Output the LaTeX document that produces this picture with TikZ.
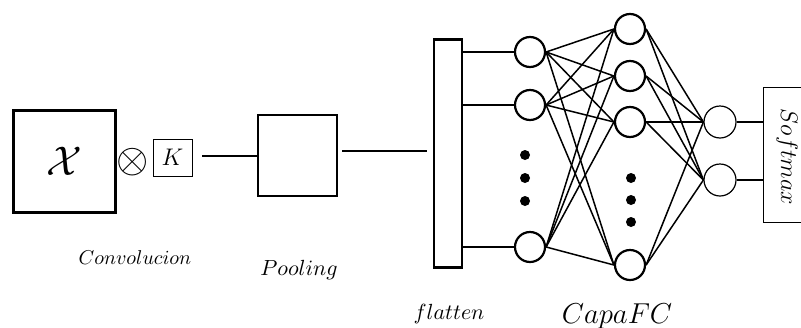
\documentclass[tikz,border=0pt]{standalone}
\usepackage{amsmath,amssymb}
\begin{document}
\begin{tikzpicture}[x=0.5pt,y=-0.5pt,
  thickbox/.style={draw,line width=1.2pt,inner sep=0pt},
  thinbox/.style={draw,line width=0.5pt,inner sep=0pt},
  neuron/.style={circle,draw,line width=1.1pt,minimum size=15pt,inner sep=0pt},
  outneuron/.style={circle,draw,line width=0.6pt,minimum size=16pt,inner sep=0pt},
  link/.style={line width=0.75pt},
  wire/.style={line width=1.1pt},
  dot/.style={circle,fill,inner sep=0pt,minimum size=5pt},
  lbl/.style={inner sep=0pt}]
\useasboundingbox (0,0) rectangle (801,327);

% convolution stage
\node[thickbox,minimum width=51pt,minimum height=51pt] (X) at (64.5,161.5)
  {\fontsize{20}{24}\selectfont$\mathcal{X}$};
\node[lbl] (otimes) at (133,162) {\fontsize{21}{24}\selectfont$\otimes$};
\node[thinbox,minimum width=19.5pt,minimum height=18.5pt] (K) at (172.5,157.5)
  {\fontsize{12}{14}\selectfont$K$};
\node[lbl] (conv) at (135,258) {\fontsize{10.2}{12}\selectfont$Convolucion$};

% pooling stage
\node[thickbox,minimum width=39.5pt,minimum height=40.5pt] (pool) at (297.5,155.5) {};
\node[lbl] (pooltxt) at (299,270) {\fontsize{11}{13}\selectfont$Pooling$};
\coordinate (kout) at (202,156);
\draw[wire] (kout) -- (pool.west |- kout);
\coordinate (pout) at (342,151);
\coordinate (fin) at (427,151);
\draw[wire] (pout) -- (fin);

% flatten
\node[thickbox,minimum width=14pt,minimum height=114pt] (flat) at (448,153.5) {};
\node[lbl] (flattxt) at (449,314) {\fontsize{11}{13}\selectfont$flatten$};

% input neurons
\node[neuron] (i1) at (530,52) {};
\node[neuron] (i2) at (530,105) {};
\node[neuron] (i3) at (530,247) {};
\node[dot] (d1) at (525,155) {};
\node[dot] (d2) at (525,178) {};
\node[dot] (d3) at (525,201) {};
\foreach \n in {i1,i2,i3} \draw[link] (flat.east |- \n) -- (\n.west);

% hidden neurons
\node[neuron] (h1) at (630,29) {};
\node[neuron] (h2) at (630,76) {};
\node[neuron] (h3) at (630,122) {};
\node[neuron] (h4) at (630,265) {};
\node[dot] (e1) at (631,178) {};
\node[dot] (e2) at (631,200) {};
\node[dot] (e3) at (631,222) {};
\node[lbl] (fctxt) at (617,316) {\fontsize{14}{16}\selectfont$CapaFC$};

% output neurons
\node[outneuron] (o1) at (720,122) {};
\node[outneuron] (o2) at (720,180) {};

% softmax
\node[thinbox,minimum width=28pt,minimum height=67.5pt,anchor=north west] (soft) at (763,87) {};
\node[lbl,rotate=-90] (softtxt) at (787,157) {\fontsize{11.5}{13}\selectfont$Softmax$};
\foreach \n in {o1,o2} \draw[wire] (\n.east) -- (soft.west |- \n);

% dense connections
\foreach \a in {i1,i2,i3}
  \foreach \b in {h1,h2,h3,h4}
    \draw[link] (\a.east) -- (\b.west);
\foreach \a in {h1,h2,h3,h4}
  \foreach \b in {o1,o2}
    \draw[link] (\a.east) -- (\b.west);
\end{tikzpicture}
\end{document}
